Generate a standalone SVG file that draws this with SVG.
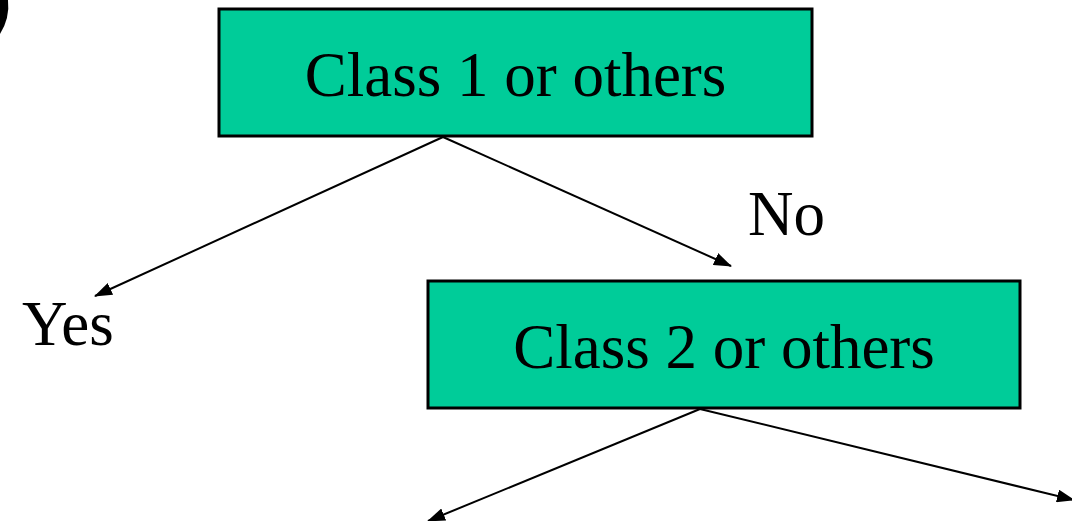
<svg xmlns="http://www.w3.org/2000/svg" width="1072" height="521" viewBox="0 0 1072 521">
<style>
.box{fill:#00cc99;stroke:#000;stroke-width:3}
.t{font-family:"Liberation Serif","Times New Roman",serif;font-size:63px;fill:#000}
.c{stroke:#000;stroke-width:2;fill:none}
</style>
<defs>
<marker id="ah" markerWidth="18" markerHeight="13" refX="17" refY="6.5" orient="auto" markerUnits="userSpaceOnUse">
<path d="M0,0 L18,6.5 L0,13 Z" fill="#000"/>
</marker>
</defs>
<rect width="1072" height="521" fill="#fff"/>
<path d="M0,0 L8,0 Q10,18 0,34 Z" fill="#000"/>
<g id="n1">
<rect class="box" x="219" y="9" width="593" height="127"/>
<text class="t" x="515.5" y="96" text-anchor="middle">Class 1 or others</text>
</g>
<g id="n2">
<rect class="box" x="428" y="281" width="592" height="127"/>
<text class="t" x="724" y="368" text-anchor="middle">Class 2 or others</text>
</g>
<g id="lyes"><text class="t" x="22" y="345">Yes</text></g>
<g id="lno"><text class="t" x="748" y="235">No</text></g>
<g id="connectors">
<line class="c" x1="443" y1="137" x2="95" y2="296" marker-end="url(#ah)"/>
<line class="c" x1="443" y1="137" x2="731" y2="266" marker-end="url(#ah)"/>
<line class="c" x1="700" y1="409" x2="428" y2="521" marker-end="url(#ah)"/>
<line class="c" x1="700" y1="409" x2="1074" y2="500" marker-end="url(#ah)"/>
</g>
</svg>
